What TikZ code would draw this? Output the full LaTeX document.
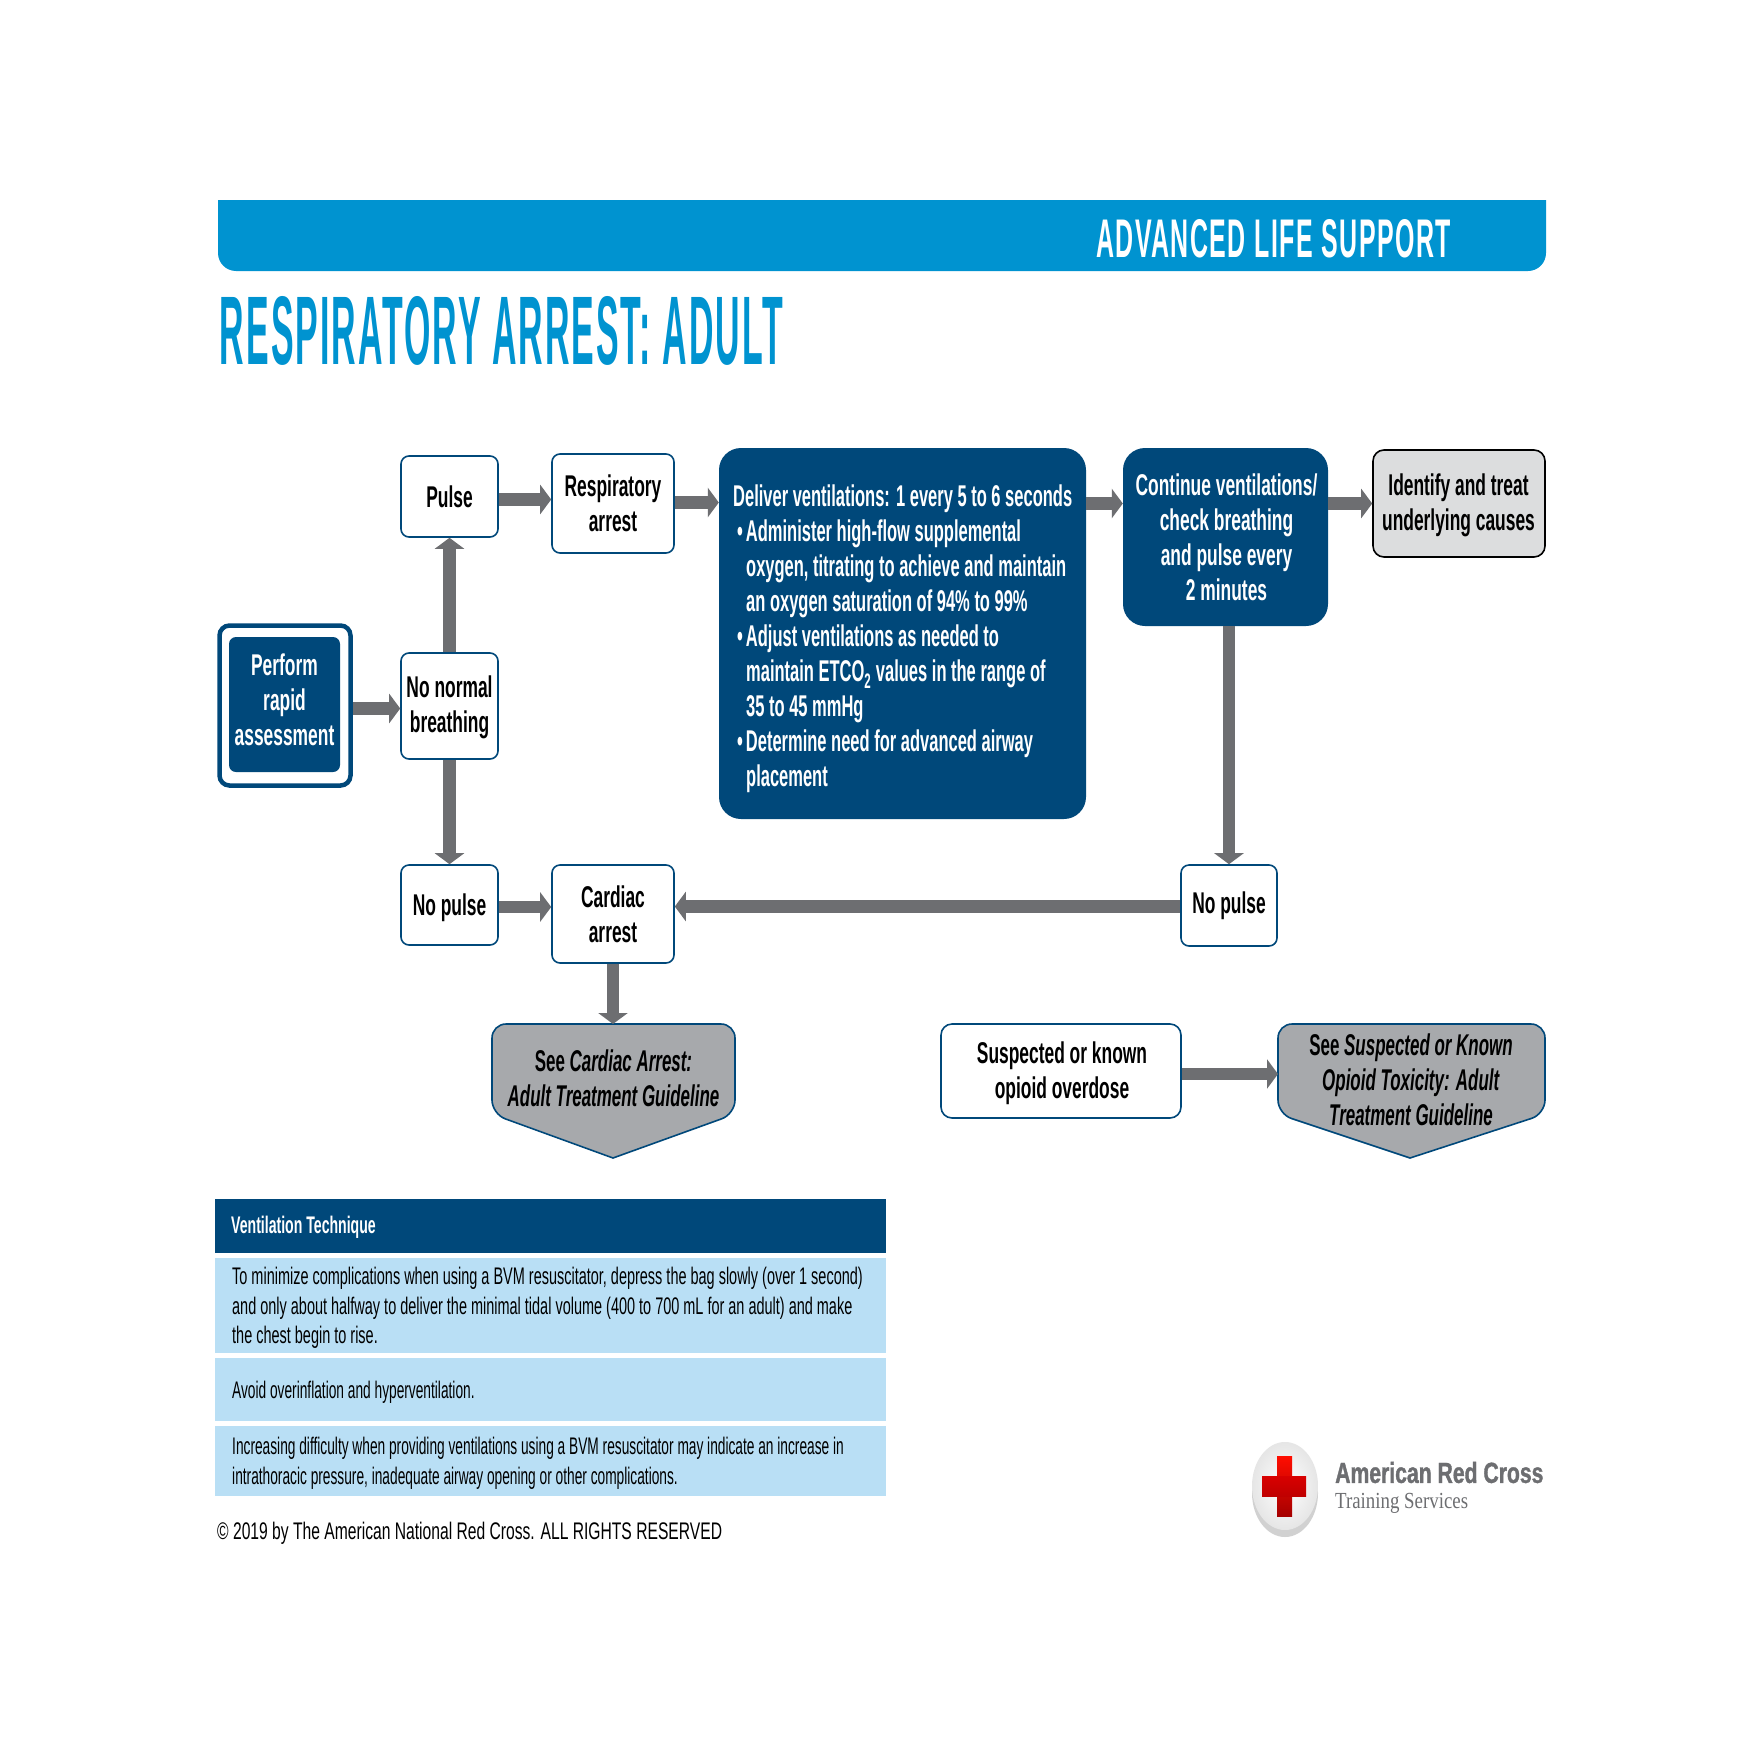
\documentclass[tikz,border=0pt]{standalone}
\usepackage{fontspec}
\usepackage{graphicx}
\usetikzlibrary{arrows.meta,calc}
\setmainfont{Liberation Sans}
\newfontfamily\titlef[LetterSpace=6]{Liberation Sans}
\newfontfamily\boxf[FakeStretch=0.58]{Liberation Sans}
\newfontfamily\bigf[FakeStretch=0.55]{Liberation Sans}
\newfontfamily\seef[FakeStretch=0.565]{Liberation Sans}
\newfontfamily\bodyf[FakeStretch=0.603]{Liberation Sans}
\newfontfamily\bodyg[FakeStretch=0.572]{Liberation Sans}
\newfontfamily\headf[FakeStretch=0.587]{Liberation Sans}
\newfontfamily\copyf[FakeStretch=0.652]{Liberation Sans}
\newfontfamily\logof[FakeStretch=0.73,BoldFeatures={FakeBold=1.2}]{Liberation Sans}
\newfontfamily\logos[FakeStretch=0.82]{Liberation Serif}
\definecolor{bannerblue}{HTML}{0093D0}
\definecolor{navy}{HTML}{00487A}
\definecolor{arrowgrey}{HTML}{6D6E71}
\definecolor{pentgrey}{HTML}{A7A9AC}
\definecolor{lightgrey}{HTML}{DCDDDE}
\definecolor{rowblue}{HTML}{B9DFF5}
\tikzset{
  basebox/.style={inner sep=0pt,align=center,font=\boxf\bfseries\fontsize{30}{35}\selectfont},
  wbox/.style={basebox,draw=navy,line width=1.6pt,fill=white,rounded corners=8pt},
  navybox/.style={basebox,fill=navy,text=white,rounded corners=22pt},
  greybox/.style={wbox,draw=black,fill=lightgrey,rounded corners=11pt},
  pent/.style={draw=navy,line width=1.6pt,fill=pentgrey},
  pentlabel/.style={basebox,text=black,font=\seef\bfseries\fontsize{30}{35}\selectfont},
  flow/.style={draw=arrowgrey,line width=12.5pt,-{Triangle[length=11pt,width=29pt]},shorten <=0pt},
  rowbox/.style={fill=rowblue,inner sep=0pt,anchor=north west},
  rowtext/.style={font=\bodyf\fontsize{24}{29.6}\selectfont,align=left,inner sep=0pt,anchor=west},
  rowtextb/.style={rowtext,font=\bodyg\fontsize{24}{29.6}\selectfont},
}
\begin{document}
\begin{tikzpicture}[x=1pt,y=-1pt]
\useasboundingbox (0,0) rectangle (1750,1750);
\fill[white] (0,0) rectangle (1750,1750);
% banner
\fill[bannerblue,rounded corners=0pt] (218,200) -- (1546,200) [rounded corners=18pt] -- (1546,271) -- (218,271) [rounded corners=0pt] -- cycle;
\node[text=white,inner sep=0pt] (bannertext) at (1273.5,239) {\resizebox{355pt}{38pt}{\titlef\bfseries ADVANCED LIFE SUPPORT}};
\node[text=bannerblue,inner sep=0pt] (title) at (501.5,331) {\resizebox{563pt}{68pt}{\titlef\bfseries RESPIRATORY ARREST: ADULT}};
% nodes
\node[draw=navy,line width=4.5pt,fill=white,rounded corners=10pt,minimum width=131pt,minimum height=160pt,inner sep=0pt] (perfouter) at (285,705.5) {};
\node[navybox,rounded corners=7pt,minimum width=111pt,minimum height=135pt] (perform) at (284.5,704.5) {};
\node[basebox,text=white] (performtext) at (284.5,700) {Perform\\rapid\\assessment};
\node[wbox,minimum width=97pt,minimum height=81pt] (pulse) at (449.5,496.5) {Pulse};
\node[wbox,minimum width=122pt,minimum height=99pt] (resp) at (613,503.5) {Respiratory\\arrest};
\node[wbox,minimum width=97pt,minimum height=106pt] (nonormal) at (449.5,706) {};
\node[basebox] (nonormaltext) at (449.5,707) {No normal\\breathing};
\node[wbox,minimum width=97pt,minimum height=80pt] (nopl) at (449.5,905) {};
\node[basebox] (nopltext) at (449.5,908) {No pulse};
\node[wbox,minimum width=122pt,minimum height=98pt] (card) at (613,914) {Cardiac\\arrest};
\node[wbox,minimum width=96pt,minimum height=81pt] (nopr) at (1229,905.5) {No pulse};
\node[navybox,minimum width=367pt,minimum height=371pt] (big) at (902.5,633.5) {};
\node[basebox,text=white,align=left,anchor=north west,font=\bigf\bfseries\fontsize{30}{35}\selectfont] (bigtext) at (733,485) {Deliver ventilations: 1 every 5 to 6 seconds\\
\hspace*{4pt}•\hspace{3pt}Administer high-flow supplemental\\
\hspace*{13pt}oxygen, titrating to achieve and maintain\\
\hspace*{13pt}an oxygen saturation of 94\% to 99\%\\
\hspace*{4pt}•\hspace{3pt}Adjust ventilations as needed to\\
\hspace*{13pt}maintain ETCO\textsubscript{2} values in the range of\\
\hspace*{13pt}35 to 45 mmHg\\
\hspace*{4pt}•\hspace{3pt}Determine need for advanced airway\\
\hspace*{13pt}placement};
\node[navybox,minimum width=205pt,minimum height=178pt] (cont) at (1225.5,537) {};
\node[basebox,text=white] (conttext) at (1226.5,537.5) {Continue ventilations/\\check breathing\\and pulse every\\2 minutes};
\node[greybox,minimum width=172pt,minimum height=107pt] (ident) at (1459,503.5) {};
\node[basebox] (identtext) at (1458.5,505.5) {Identify and treat\\underlying causes};
\node[wbox,rounded corners=11pt,minimum width=240pt,minimum height=94pt] (susp) at (1061,1071) {};
\node[basebox] (susptext) at (1062,1073) {Suspected or known\\opioid overdose};
% pentagons
\draw[pent,rounded corners=14pt] (492,1024) -- (735,1024) -- (735,1114) [rounded corners=0pt] -- (613,1158) [rounded corners=14pt] -- (492,1114) -- cycle;
\node[pentlabel] (seecard) at (613.5,1078) {See \textit{Cardiac Arrest:}\\\textit{Adult Treatment Guideline}};
\coordinate (seecardtop) at (613,1024);
\draw[pent,rounded corners=14pt] (1278,1024) -- (1545,1024) -- (1545,1114) [rounded corners=0pt] -- (1410,1158) [rounded corners=14pt] -- (1278,1114) -- cycle;
\node[pentlabel] (seesusp) at (1411,1080) {See \textit{Suspected or Known}\\\textit{Opioid Toxicity: Adult}\\\textit{Treatment Guideline}};
\coordinate (seesuspleft) at (1278,1074);
% arrows
\draw[flow] ([yshift=-3pt]perfouter.east) -- ([yshift=-3pt]perfouter.east -| nonormal.west);
\draw[flow] (nonormal.north) -- (pulse.south);
\draw[flow] (nonormal.south) -- (nopl.north);
\draw[flow] ([yshift=-3pt]pulse.east) -- ([yshift=-3pt]pulse.east -| resp.west);
\draw[flow] ([yshift=1pt]resp.east) -- ([yshift=1pt]resp.east -| big.west);
\draw[flow] (big.east |- resp.east) -- (cont.west |- resp.east);
\draw[flow] (cont.east |- ident.west) -- (ident.west);
\draw[flow] (nopr.north |- cont.south) -- (nopr.north);
\draw[flow] ([yshift=-1pt]nopr.west) -- ([yshift=-1pt]nopr.west -| card.east);
\draw[flow] ([yshift=-2pt]nopl.east) -- ([yshift=-2pt]nopl.east -| card.west);
\draw[flow] (card.south) -- (seecardtop);
\draw[flow] (susp.east |- seesuspleft) -- (seesuspleft);
% table
\node[rowbox,fill=navy,minimum width=671pt,minimum height=54pt] (thead) at (215,1199) {};
\node[rowbox,minimum width=671pt,minimum height=95pt] (r1) at (215,1258) {};
\node[rowbox,minimum width=671pt,minimum height=63pt] (r2) at (215,1358) {};
\node[rowbox,minimum width=671pt,minimum height=70pt] (r3) at (215,1426) {};
\node[rowtext,text=white,font=\headf\bfseries\fontsize{24}{29.6}\selectfont] (theadtext) at (231,1227) {Ventilation Technique};
\node[rowtext] (r1text) at (232,1308) {To minimize complications when using a BVM resuscitator, depress the bag slowly (over 1 second)\\and only about halfway to deliver the minimal tidal volume (400 to 700 mL for an adult) and make\\the chest begin to rise.};
\node[rowtextb] (r2text) at (232,1392) {Avoid overinflation and hyperventilation.};
\node[rowtextb] (r3text) at (232,1463) {Increasing difficulty when providing ventilations using a BVM resuscitator may indicate an increase in\\intrathoracic pressure, inadequate airway opening or other complications.};
\node[inner sep=0pt,anchor=west,font=\copyf\fontsize{24}{29}\selectfont] (copy) at (217,1533) {© 2019 by The American National Red Cross. ALL RIGHTS RESERVED};
% logo
\fill[black!18] (1285,1493) ellipse [x radius=33,y radius=44];
\shade[inner color=white,outer color=black!10] (1285,1486) ellipse [x radius=33,y radius=44];
\shade[top color=red!90!orange,bottom color=red!65!black] (1277,1456) rectangle (1292,1516);
\shade[top color=red!85!black,bottom color=red!75!black] (1262,1476) rectangle (1306,1496);
\node[inner sep=0pt,anchor=west,text=arrowgrey,font=\logof\bfseries\fontsize{29}{32}\selectfont] (logo1) at (1335,1472.5) {American Red Cross};
\node[inner sep=0pt,anchor=west,text=arrowgrey,font=\logos\fontsize{23}{26}\selectfont] (logo2) at (1335,1503) {Training Services};
\end{tikzpicture}
\end{document}
